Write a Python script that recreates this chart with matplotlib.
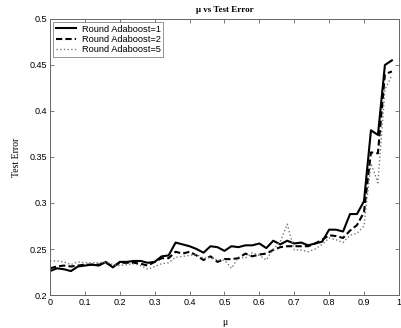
import numpy as np
import matplotlib
matplotlib.use('Agg')
import matplotlib.pyplot as plt

# mu values (0 .. 0.98, step 0.02)
mu = [0.00, 0.02, 0.04, 0.06, 0.08, 0.10, 0.12, 0.14, 0.16, 0.18,
      0.20, 0.22, 0.24, 0.26, 0.28, 0.30, 0.32, 0.34, 0.36, 0.38,
      0.40, 0.42, 0.44, 0.46, 0.48, 0.50, 0.52, 0.54, 0.56, 0.58,
      0.60, 0.62, 0.64, 0.66, 0.68, 0.70, 0.72, 0.74, 0.76, 0.78,
      0.80, 0.82, 0.84, 0.86, 0.88, 0.90, 0.92, 0.94, 0.96, 0.98]

err_round1 = [0.226, 0.229, 0.228, 0.226, 0.231, 0.232, 0.233, 0.232, 0.236, 0.230,
              0.236, 0.236, 0.237, 0.237, 0.235, 0.236, 0.242, 0.243, 0.257, 0.255,
              0.253, 0.250, 0.246, 0.253, 0.252, 0.248, 0.253, 0.252, 0.254, 0.254,
              0.256, 0.251, 0.259, 0.255, 0.259, 0.256, 0.257, 0.254, 0.256, 0.258,
              0.271, 0.271, 0.269, 0.288, 0.288, 0.302, 0.379, 0.374, 0.450, 0.455]

err_round2 = [0.229, 0.231, 0.232, 0.231, 0.232, 0.233, 0.233, 0.233, 0.235, 0.231,
              0.235, 0.235, 0.235, 0.234, 0.232, 0.236, 0.240, 0.240, 0.247, 0.245,
              0.247, 0.243, 0.238, 0.242, 0.236, 0.239, 0.239, 0.240, 0.245, 0.242,
              0.244, 0.245, 0.249, 0.252, 0.253, 0.253, 0.253, 0.253, 0.256, 0.260,
              0.265, 0.264, 0.262, 0.270, 0.276, 0.290, 0.355, 0.354, 0.440, 0.443]

err_round5 = [0.237, 0.237, 0.236, 0.233, 0.236, 0.235, 0.235, 0.235, 0.236, 0.233,
              0.232, 0.233, 0.234, 0.232, 0.228, 0.231, 0.234, 0.235, 0.241, 0.242,
              0.243, 0.244, 0.240, 0.241, 0.238, 0.238, 0.229, 0.241, 0.240, 0.246,
              0.243, 0.238, 0.250, 0.258, 0.277, 0.249, 0.249, 0.247, 0.250, 0.255,
              0.262, 0.260, 0.257, 0.265, 0.267, 0.275, 0.343, 0.322, 0.423, 0.439]

fig = plt.figure(figsize=(4.01, 3.28), dpi=100)
ax = fig.add_axes([0.1247, 0.1006, 0.870, 0.8415])

ax.plot(mu, err_round1, color='black', linewidth=1.5, linestyle='-', label='Round Adaboost=1')
ax.plot(mu, err_round2, color='black', linewidth=1.5, linestyle='--', dashes=(3, 1.5), label='Round Adaboost=2')
ax.plot(mu, err_round5, color='#777777', linewidth=1.0, linestyle=':', label='Round Adaboost=5')

ax.set_xlim(0, 1)
ax.set_ylim(0.2, 0.5)
ax.set_xticks(np.arange(0, 1.01, 0.1))
ax.set_xticklabels(['0', '0.1', '0.2', '0.3', '0.4', '0.5', '0.6', '0.7', '0.8', '0.9', '1'])
ax.set_yticks(np.arange(0.2, 0.51, 0.05))
ax.set_yticklabels(['0.2', '0.25', '0.3', '0.35', '0.4', '0.45', '0.5'])

ax.tick_params(direction='in', top=True, right=True, length=3, width=0.6,
               color='#666666', labelsize=6.5, pad=2)
for lbl in ax.get_xticklabels() + ax.get_yticklabels():
    lbl.set_family('Liberation Sans')
for s in ax.spines.values():
    s.set_color('#666666')
    s.set_linewidth(0.7)

ax.set_title('μ vs Test Error', fontsize=6.5, fontweight='bold',
             family='Liberation Serif', pad=5)
ax.set_xlabel('μ', fontsize=7, family='Liberation Serif', labelpad=8)
ax.set_ylabel('Test Error', fontsize=7, family='Liberation Serif', labelpad=6)

leg = ax.legend(loc='upper left', frameon=True, fancybox=False,
                borderpad=0.3, labelspacing=0.15, handlelength=2.2,
                handletextpad=0.6, borderaxespad=0.3,
                prop={'family': 'Liberation Sans', 'size': 6.7})
leg.get_frame().set_edgecolor('#666666')
leg.get_frame().set_linewidth(0.6)

plt.savefig('out.png', dpi=100)
